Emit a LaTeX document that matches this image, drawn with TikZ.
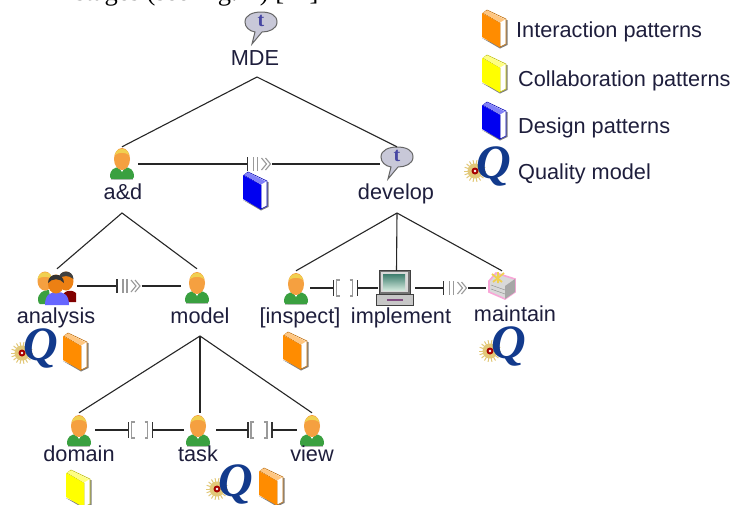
\documentclass[tikz,border=0pt]{standalone}
\usepackage{fontspec}
\setmainfont{Liberation Sans}
\newfontfamily\qfont{Liberation Serif}
\definecolor{labelc}{HTML}{1E1E3C}
\definecolor{opgrey}{HTML}{9A9A9A}
\definecolor{bookorange}{HTML}{FF8C00}
\definecolor{bookyellow}{HTML}{FFFF00}
\definecolor{bookblue}{HTML}{0000F0}
\definecolor{qblue}{HTML}{123A8C}
\definecolor{bubble}{HTML}{C8C8D8}
\definecolor{skin}{HTML}{F5A040}
\definecolor{hair}{HTML}{F0D050}
\definecolor{shirt}{HTML}{3AA040}
\definecolor{sunc}{HTML}{E2C878}
\definecolor{scrtop}{HTML}{3E7E6E}
\definecolor{scrbot}{HTML}{CFE6DA}
\tikzset{
  x=1pt,y=-1pt,
  lab/.style={font=\fontsize{21.7}{24}\selectfont,text=labelc,inner sep=0pt,anchor=base},
  leg/.style={font=\fontsize{21.7}{24}\selectfont,text=labelc,inner sep=0pt,anchor=base west},
  iconbox/.style={inner sep=0pt,minimum width=#1,minimum height=34pt},
  iconbox/.default=28pt,
  opbox/.style={inner sep=0pt,minimum width=#1,minimum height=14pt},
  link/.style={draw=black!85,line width=1.2pt},
  tree/.style={draw=black!85,line width=1.1pt},
  opbar/.style={draw=black!80,line width=1.2pt},
  opmark/.style={draw=opgrey,line width=1.1pt},
  person/.pic={
    \fill[black!25] (-11,15) -- (11,15) -- (11,17) -- (-11,17) -- cycle;
    \fill[shirt] (-12,14) .. controls (-12,6) and (-8,5) .. (-3,4) -- (3,4) .. controls (8,5) and (12,6) .. (12,14) .. controls (12,16) and (10,16) .. (8,16) -- (-8,16) .. controls (-10,16) and (-12,16) .. (-12,14) -- cycle;
    \fill[white] (-3,4) -- (3,4) -- (0,9) -- cycle;
    \fill[skin] (0,-4) ellipse [x radius=8,y radius=11];
    \fill[hair] (-7,-8) .. controls (-6,-16) and (6,-16) .. (7,-8) .. controls (3,-11) and (-3,-11) .. (-7,-8) -- cycle;
  },
  talk/.pic={
    \filldraw[fill=bubble,draw=black!60,line width=1pt]
      (-6,9) .. controls (-12,8) and (-16,4) .. (-16,-1)
      .. controls (-16,-8) and (-8,-11) .. (0,-11)
      .. controls (9,-11) and (16,-8) .. (16,-1)
      .. controls (16,6) and (8,9) .. (1,9)
      -- (-9,21) -- cycle;
    \node[inner sep=0pt,text=black!20!blue!45!gray,font=\qfont\bfseries\fontsize{20}{20}\selectfont] at (0,-2) {t};
  },
  bookshape/.pic={
    \fill[black!50] (0,28) -- (18,38.5) -- (25.5,35) -- (25.5,10) -- (24,10) -- (24,33) -- (18,36) -- cycle;
    \filldraw[fill=white,draw=#1!75!black,line width=.6pt] (1,3) -- (5,0) -- (24,9) -- (24,34) -- (18,37) -- (18,13) -- cycle;
    \fill[#1] (0,3) -- (18,13) -- (18,37.5) -- (0,27) -- cycle;
    \fill[#1!50!white] (1,2.5) -- (5,0.5) -- (23,9.5) -- (18,12.5) -- cycle;
  },
  qmark/.pic={
    \foreach \a in {0,20,...,340}{\draw[sunc,line width=1pt] (9,23) -- ++(\a:11);}
    \fill[sunc] (9,23) circle [radius=7.5];
    \fill[red!65!black] (9,23) circle [radius=3.5];
    \fill[white] (9,23) circle [radius=1.3];
    \node[inner sep=0pt,text=qblue,font=\qfont\bfseries\itshape\fontsize{48}{48}\selectfont,anchor=center] at (28,18.5) {Q};
  },
  seqmark/.pic={
    \draw[opbar] (-12,-7) -- (-12,7);
    \draw[opmark] (-6,-7) -- (-6,7);
    \draw[opmark] (-2,-7) -- (-2,7);
    \draw[opmark] (2,-6) -- (7,0) -- (2,6);
    \draw[opmark] (6,-6) -- (11,0) -- (6,6);
  },
  parmark/.pic={
    \draw[opbar] (-12,-8) -- (-12,8);
    \draw[opmark] (-6,-8) -- (-9,-8) -- (-9,8) -- (-6,8);
    \draw[opmark] (4,-8) -- (7,-8) -- (7,8) -- (4,8);
    \draw[opbar] (12,-8) -- (12,8);
  },
  computer/.pic={
    \filldraw[fill=black!55,draw=black!75,line width=1pt] (-16,-17) rectangle (15,7);
    \fill[black!15] (-14,-15) rectangle (13,5);
    \shade[top color=scrtop,bottom color=scrbot] (-12,-13) rectangle (10,3);
    \filldraw[fill=black!22,draw=black!75,line width=1pt] (-19,7) rectangle (18,18);
    \fill[violet!40!gray] (-8,12) rectangle (8,14);
  },
  server/.pic={
    \filldraw[fill=black!15,draw=magenta!35,line width=1.6pt] (-13,-5) -- (-6,-13) -- (13,-7) -- (13,6) -- (3,13) -- (-13,6) -- cycle;
    \fill[black!35] (3,0) -- (13,-7) -- (13,6) -- (3,13) -- cycle;
    \draw[black!45] (-11,-1) -- (3,4) (-11,3) -- (3,8);
    \draw[hair,line width=1.8pt] (-10,-12) -- (0,-4) (-4,-14) -- (-4,-3) (2,-13) -- (-9,-4);
  },
  group/.pic={
    \fill[shirt] (-19,13) .. controls (-19,6) and (-14,3) .. (-8,3) -- (-6,17) -- (-17,17) .. controls (-18,17) and (-19,15) .. (-19,13) -- cycle;
    \fill[red!50!black] (4,15) .. controls (4,4) and (13,1) .. (19,6) -- (19,15) -- cycle;
    \fill[skin] (-12,-6) ellipse [x radius=7.5,y radius=9.5];
    \fill[hair] (-19.5,-8) .. controls (-18,-17) and (-6,-17) .. (-4.5,-8) .. controls (-9,-11) and (-15,-11) .. (-19.5,-8) -- cycle;
    \fill[orange!70!brown] (9,-6) ellipse [x radius=7.5,y radius=9.5];
    \fill[black!75] (1.5,-8) .. controls (2,-18) and (16,-18) .. (16.5,-8) .. controls (11,-12) and (7,-12) .. (1.5,-8) -- cycle;
    \fill[blue!60!white] (-12,18) .. controls (-12,7) and (-6,5) .. (0,5) .. controls (6,5) and (12,7) .. (12,18) -- cycle;
    \fill[orange!70!brown] (-1,-3) ellipse [x radius=8,y radius=9.5];
    \fill[black!80] (-9,-4) .. controls (-9,-15) and (7,-15) .. (7,-4) .. controls (3,-9) and (-5,-9) .. (-9,-4) -- cycle;
  },
}
\newcommand{\seqop}[3]{\node[opbox=25pt] (#1) at (#2,#3) {}; \pic at (#2,#3) {seqmark};}
\newcommand{\parop}[3]{\node[opbox=24pt] (#1) at (#2,#3) {}; \pic at (#2,#3) {parmark};}
\begin{document}
\begin{tikzpicture}
\useasboundingbox (0,0) rectangle (731,504);
\fill[white] (0,0) rectangle (731,504);
\clip (0,0) rectangle (731,504);

\node[inner sep=0pt,anchor=base west,font=\qfont\fontsize{26.5}{28}\selectfont,text=black] (runtext) at (61,0) {l stages (see Fig. 1) [11]};

\node[iconbox=32pt] (mde) at (261,28) {}; \pic at (261,23) {talk};
\node[iconbox=32pt] (ad) at (122,164) {}; \pic at (122,163) {person};
\node[iconbox=34pt] (develop) at (397,164) {}; \pic at (397,158) {talk};
\node[iconbox=40pt] (analysis) at (57,286) {}; \pic at (57,287) {group};
\node[iconbox=32pt] (model) at (197,286) {}; \pic at (197,287) {person};
\node[iconbox=28pt] (inspect) at (296,288) {}; \pic at (296,288) {person};
\node[iconbox=37pt] (implement) at (396.5,288) {}; \pic at (395,287) {computer};
\node[iconbox=32pt] (maintain) at (502,288) {}; \pic at (502,286) {server};
\node[iconbox=32pt] (domain) at (79,430) {}; \pic at (79,430) {person};
\node[iconbox=32pt] (task) at (200,430) {}; \pic at (198,430) {person};
\node[iconbox=30pt] (view) at (312,430) {}; \pic at (312,430) {person};

\node[lab] (lmde) at (255,65) {MDE};
\node[lab] (lad) at (123,199) {a\&d};
\node[lab] (ldev) at (396,199) {develop};
\node[lab] (lana) at (56,323) {analysis};
\node[lab] (lmod) at (200,323) {model};
\node[lab] (lins) at (300,323) {[inspect]};
\node[lab] (limp) at (401,323) {implement};
\node[lab] (lmai) at (515,321) {maintain};
\node[lab] (ldom) at (79,461) {domain};
\node[lab] (ltas) at (198,461) {task};
\node[lab] (lvie) at (312,461) {view};

\coordinate (amde) at (257,77);
\coordinate (aad) at (122,213);
\coordinate (adev) at (397,213);
\coordinate (amod) at (200,336);

\draw[tree] (ad.north) -- (amde) -- (develop.north);
\draw[tree] (analysis.north) -- (aad) -- (model.north);
\draw[tree] (inspect.north) -- (adev) -- (maintain.north);
\draw[tree] (adev) -- (implement.north);
\draw[tree] (domain.north) -- (amod) -- (view.north);
\draw[tree] (amod) -- (task.north);

\seqop{opa}{259.5}{164}
\seqop{opb}{129}{286}
\parop{opc}{345.5}{288}
\seqop{opd}{455.5}{288}
\parop{ope}{140.5}{430}
\parop{opf}{260}{430}

\draw[link] (ad.east) -- (opa.west);
\draw[link] (opa.east) -- (develop.west);
\draw[link] (analysis.east) -- (opb.west);
\draw[link] (opb.east) -- (model.west);
\draw[link] (inspect.east) -- (opc.west);
\draw[link] (opc.east) -- (implement.west);
\draw[link] (implement.east) -- (opd.west);
\draw[link] (opd.east) -- (maintain.west);
\draw[link] (domain.east) -- (ope.west);
\draw[link] (ope.east) -- (task.west);
\draw[link] (task.east) -- (opf.west);
\draw[link] (opf.east) -- (view.west);

\pic at (243,172) {bookshape=bookblue};
\pic at (13,330) {qmark};
\pic at (63,333) {bookshape=bookorange};
\pic at (283,332) {bookshape=bookorange};
\pic at (481,328) {qmark};
\pic at (66,470) {bookshape=bookyellow};
\pic at (208,466) {qmark};
\pic at (259,468) {bookshape=bookorange};

\pic at (482,10) {bookshape=bookorange};
\pic at (482,55) {bookshape=bookyellow};
\pic at (482,102) {bookshape=bookblue};
\pic at (466,148) {qmark};
\node[leg] (l1) at (516,37) {Interaction patterns};
\node[leg] (l2) at (518,86) {Collaboration patterns};
\node[leg] (l3) at (518,133) {Design patterns};
\node[leg] (l4) at (518,179) {Quality model};
\end{tikzpicture}
\end{document}
